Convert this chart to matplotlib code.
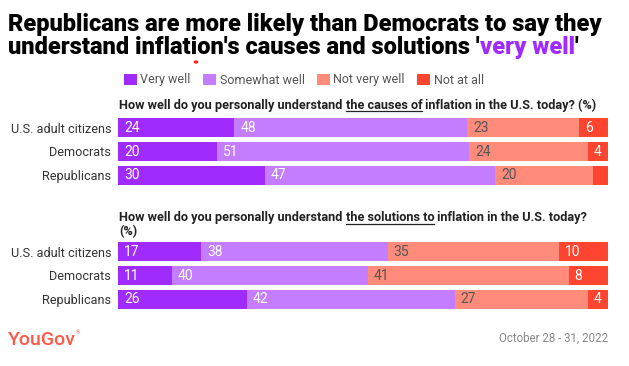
import matplotlib
matplotlib.use("Agg")
import matplotlib.pyplot as plt
from matplotlib.patches import Patch, Circle

groups = ["U.S. adult citizens", "Democrats", "Republicans"]
answers = ["Very well", "Somewhat well", "Not very well", "Not at all"]
colors = ["#9f2bff", "#c47dff", "#ff8b7b", "#ff4530"]
text_colors = ["white", "white", "#555555", "white"]

causes = {
    "Very well": [24, 20, 30],
    "Somewhat well": [48, 51, 47],
    "Not very well": [23, 24, 20],
    "Not at all": [6, 4, 3],
}
solutions = {
    "Very well": [17, 11, 26],
    "Somewhat well": [38, 40, 42],
    "Not very well": [35, 41, 27],
    "Not at all": [10, 8, 4],
}

W, H = 629, 366
fig = plt.figure(figsize=(W / 100, H / 100), dpi=100)
plt.rcParams["font.family"] = ["Roboto", "DejaVu Sans"]


def px_axes(left, top, right, bottom):
    return fig.add_axes([left / W, 1 - bottom / H, (right - left) / W, (bottom - top) / H])


def draw_bars(ax, data):
    totals = [sum(data[a][i] for a in answers) for i in range(len(groups))]
    left = [0.0] * len(groups)
    for a, c, tc in zip(answers, colors, text_colors):
        vals = [v / t * 100 for v, t in zip(data[a], totals)]
        ax.barh(range(len(groups)), vals, left=left, height=0.8, color=c, edgecolor="none")
        for i, (raw, v) in enumerate(zip(data[a], vals)):
            if raw >= 4:
                ax.text(left[i] + 1.2, i, str(raw), color=tc, fontsize=10,
                        va="center", ha="left")
        left = [l + v for l, v in zip(left, vals)]
    ax.set_xlim(0, 100)
    ax.set_ylim(2.5, -0.5)
    ax.set_yticks(range(len(groups)))
    ax.set_yticklabels(groups, fontsize=9.05, color="#333333")
    ax.tick_params(axis="y", length=0, pad=5)
    ax.set_xticks([])
    for s in ax.spines.values():
        s.set_visible(False)


def subtitle(x, y, parts):
    r = fig.canvas.get_renderer()
    for txt, under in parts:
        t = fig.text(x / W, 1 - y / H, txt, fontsize=9.2, fontweight="bold",
                     color="#222222", va="baseline", ha="left")
        bb = t.get_window_extent(r)
        if under:
            fig.add_artist(plt.Line2D([bb.x0 / W, bb.x1 / W],
                                      [(H - y - 2.5) / H] * 2, color="#222222", lw=0.9))
        x = bb.x1 * W / fig.bbox.width


ax1 = px_axes(118, 116, 608, 187)
draw_bars(ax1, causes)
ax2 = px_axes(118, 240, 608, 311)
draw_bars(ax2, solutions)

# title
tsize = 17
fig.text(8 / W, 1 - 31 / H, "Republicans are more likely than Democrats to say they",
         fontsize=tsize, fontweight="heavy", color="black", va="baseline")
r = fig.canvas.get_renderer()
t2 = fig.text(8 / W, 1 - 54 / H, "understand inflation's causes and solutions '",
              fontsize=tsize, fontweight="heavy", color="black", va="baseline")
bb = t2.get_window_extent(r)
t3 = fig.text(bb.x1 / fig.bbox.width, 1 - 54 / H, "very well", fontsize=tsize,
              fontweight="heavy", color="#9f2bff", va="baseline")
bb = t3.get_window_extent(r)
fig.text(bb.x1 / fig.bbox.width, 1 - 54 / H, "'", fontsize=tsize,
         fontweight="heavy", color="black", va="baseline")
fig.add_artist(Circle((196 / W, 1 - 62 / H), 1.6 / W, color="#ff2020",
                      transform=fig.transFigure))

handles = [Patch(facecolor=c, edgecolor="none", label=a) for a, c in zip(answers, colors)]
fig.legend(handles=handles, loc="center", bbox_to_anchor=(304 / W, 1 - 80 / H),
           ncol=4, frameon=False, fontsize=9, handlelength=1.0, handleheight=1.0,
           handletextpad=0.3, columnspacing=1.0, labelcolor="#555555")

subtitle(119, 109, [("How well do you personally understand ", False),
                    ("the causes of", True),
                    (" inflation in the U.S. today? (%)", False)])
subtitle(119, 221, [("How well do you personally understand ", False),
                    ("the solutions to", True),
                    (" inflation in the U.S. today?", False)])
subtitle(119, 235, [("(%)", False)])

yg = fig.text(8 / W, 1 - 345 / H, "YouGov", fontsize=14, color="#ff5a47",
              va="baseline", fontweight="medium")
bb = yg.get_window_extent(r)
fig.text(bb.x1 / fig.bbox.width, 1 - 334 / H, "®", fontsize=4, color="#ff5a47",
         va="baseline")
fig.text(608 / W, 1 - 342 / H, "October 28 - 31, 2022", fontsize=8.3, color="#888888",
         va="baseline", ha="right")

fig.savefig("out.png", dpi=100)
